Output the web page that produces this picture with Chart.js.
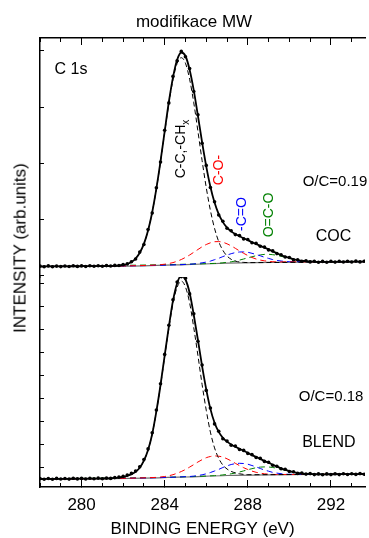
<!DOCTYPE html>
<html>
<head>
<meta charset="utf-8">
<script src="https://cdn.jsdelivr.net/npm/chart.js@4"></script>
<style>
  html, body { margin: 0; padding: 0; background: #fff; }
  #wrap { position: relative; width: 369px; height: 538px; overflow: hidden;
          font-family: "Liberation Sans", Arial, sans-serif; color: #000; }
  #plot-title { position: absolute; left: 0; top: 13px; width: 388px; text-align: center;
                font-size: 17px; line-height: 17px; white-space: nowrap; }
  #y-title { position: absolute; left: 20px; top: 248px; transform: translate(-50%, -50%) rotate(-90deg);
             font-size: 17px; line-height: 17px; white-space: nowrap; }
  canvas { position: absolute; left: 0; top: 0; }
</style>
</head>
<body>
<div id="wrap">
  <canvas id="xps" width="369" height="538"></canvas>
  <div id="plot-title">modifikace MW</div>
  <div id="y-title">INTENSITY (arb.units)</div>
</div>
<script>
// binding energy grid of the measured spectra (eV)
const energy = [
  278.0, 278.2, 278.4, 278.6, 278.8, 279.0, 279.2, 279.4, 279.6, 279.8,
  280.0, 280.2, 280.4, 280.6, 280.8, 281.0, 281.2, 281.4, 281.6, 281.8,
  282.0, 282.2, 282.4, 282.6, 282.8, 283.0, 283.2, 283.4, 283.6, 283.8,
  284.0, 284.2, 284.4, 284.6, 284.8, 285.0, 285.2, 285.4, 285.6, 285.8,
  286.0, 286.2, 286.4, 286.6, 286.8, 287.0, 287.2, 287.4, 287.6, 287.8,
  288.0, 288.2, 288.4, 288.6, 288.8, 289.0, 289.2, 289.4, 289.6, 289.8,
  290.0, 290.2, 290.4, 290.6, 290.8, 291.0, 291.2, 291.4, 291.6, 291.8,
  292.0, 292.2, 292.4, 292.6, 292.8, 293.0, 293.2, 293.4, 293.6
];

// COC sample (upper panel)
const cocMeasured = [
  0.9, 0.2, 1.1, 0.3, 0.9, 0.4, 1.0, 0.5, 1.2, 0.6,
  1.1, 0.5, 1.3, 0.7, 1.2, 0.8, 1.4, 1.0, 1.6, 1.5,
  2.4, 3.1, 5.3, 8.0, 14.9, 22.5, 37.4, 54.0, 79.2, 104.9,
  136.8, 164.1, 190.6, 206.3, 215.6, 210.2, 198.4, 175.5, 152.3, 123.8,
  101.6, 79.5, 65.3, 52.0, 45.7, 38.8, 36.3, 32.4, 31.4, 28.1,
  27.5, 24.2, 23.6, 20.7, 19.9, 17.1, 16.1, 13.4, 12.3, 10.0,
  9.5, 7.3, 7.3, 5.8, 6.3, 5.1, 5.8, 4.8, 5.6, 4.8,
  5.7, 4.9, 5.7, 5.0, 5.8, 5.0, 5.9, 5.1, 5.8
];
const cocFit = [
  0.50, 0.53, 0.56, 0.58, 0.61, 0.64, 0.67, 0.70, 0.72, 0.75,
  0.78, 0.81, 0.84, 0.86, 0.89, 0.92, 0.95, 0.98, 1.2, 1.4,
  2.0, 3.0, 4.9, 8.3, 14.2, 23.1, 36.5, 54.8, 78.3, 105.8,
  135.7, 165.0, 189.7, 207.2, 214.5, 211.0, 197.3, 176.6, 151.1, 124.9,
  100.7, 80.3, 64.4, 52.8, 44.9, 39.4, 35.6, 33.0, 30.7, 28.8,
  26.8, 24.8, 23.0, 21.2, 19.4, 17.6, 15.6, 13.8, 11.9, 10.4,
  9.1, 7.7, 6.9, 6.2, 5.9, 5.5, 5.3, 5.06, 5.09, 5.12,
  5.15, 5.18, 5.21, 5.24, 5.27, 5.3, 5.33, 5.36, 5.4
];

// BLEND sample (lower panel)
const blendMeasured = [
  0.4, -0.3, 0.5, -0.2, 0.6, 0.0, 0.5, -0.1, 0.7, 0.1,
  0.6, 0.0, 0.8, 0.2, 0.9, 0.3, 0.9, 0.6, 1.4, 1.9,
  2.6, 3.9, 5.6, 7.9, 12.2, 19.4, 30.1, 46.2, 68.9, 95.3,
  124.6, 153.8, 179.2, 196.9, 202.4, 200.8, 185.1, 165.2, 137.8, 113.9,
  88.6, 70.9, 55.1, 47.8, 40.3, 37.9, 33.8, 32.9, 29.5, 28.6,
  25.6, 24.4, 21.5, 20.6, 17.6, 16.8, 13.8, 12.8, 10.2, 9.7,
  7.5, 7.2, 5.6, 6.0, 4.9, 5.4, 4.4, 5.1, 4.3, 5.1,
  4.4, 5.2, 4.4, 5.3, 4.5, 5.3, 4.6, 5.4, 4.7
];
const blendFit = [
  0, 0.03, 0.06, 0.10, 0.13, 0.16, 0.19, 0.22, 0.26, 0.29,
  0.32, 0.35, 0.38, 0.42, 0.45, 0.48, 0.51, 0.54, 1.0, 1.4,
  2.1, 3.2, 4.7, 7.2, 11.3, 18.3, 28.9, 45.0, 67.6, 94.0,
  123.5, 152.3, 178.3, 195.8, 203.5, 199.5, 186.2, 164.0, 139.0, 112.9,
  89.7, 70.1, 56.2, 47.1, 41.2, 37.4, 34.6, 32.3, 30.2, 28.1,
  26.2, 23.9, 22.1, 20.1, 18.1, 16.3, 14.3, 12.3, 10.7, 9.2,
  8.0, 6.8, 6.0, 5.6, 5.2, 5.0, 4.8, 4.62, 4.65, 4.69,
  4.72, 4.76, 4.79, 4.83, 4.86, 4.90, 4.93, 4.97, 5.0
];

// background lines
const baseEnergy = [278, 283, 285, 287, 289, 293.6];
const cocBase = [0.5, 1.2, 2.4, 3.8, 4.7, 5.4];
const blendBase = [0, 0.8, 2.0, 3.5, 4.2, 5.0];

// fitted components, C-C / CHx
const ccEnergy = [278,
  281.6, 281.8, 282.0, 282.2, 282.4, 282.6, 282.8, 283.0, 283.2, 283.4,
  283.6, 283.8, 284.0, 284.2, 284.4, 284.6, 284.8, 285.0, 285.2, 285.4,
  285.6, 285.8, 286.0, 286.2, 286.4, 286.6, 286.8, 287.0, 287.2, 287.4,
  287.6, 287.8, 288.0, 293.6];
const cocCC = [0.5,
  1.2, 1.4, 2.0, 3.0, 4.9, 8.3, 14.2, 23.1, 36.5, 54.8,
  78.0, 105.2, 134.7, 163.4, 187.3, 203.6, 209.3, 203.8, 187.8, 164.2,
  135.7, 106.5, 79.5, 56.6, 38.6, 25.4, 16.7, 11.0, 7.7, 5.9,
  5.0, 4.6, 4.4, 5.4];
const blendCC = [0,
  1.0, 1.4, 2.1, 3.2, 4.7, 7.2, 11.3, 18.3, 28.9, 45.0,
  67.2, 93.3, 122.4, 150.5, 175.6, 191.8, 197.9, 192.0, 176.2, 151.3,
  123.5, 94.6, 68.8, 46.9, 31.1, 20.7, 13.9, 10.0, 7.6, 6.1,
  5.2, 4.6, 4.3, 5.0];

// C-O-
const coEnergy = [278,
  283.6, 283.8, 284.0, 284.2, 284.4, 284.6, 284.8, 285.0, 285.2, 285.4,
  285.6, 285.8, 286.0, 286.2, 286.4, 286.6, 286.8, 287.0, 287.2, 287.4,
  287.6, 287.8, 288.0, 288.2, 288.4, 288.6, 288.8, 289.0, 289.2, 289.4, 293.6];
const cocCO = [0.5,
  1.9, 2.3, 2.8, 3.5, 4.4, 5.8, 7.5, 9.6, 12.0, 14.7,
  17.5, 20.2, 22.5, 24.2, 25.3, 25.4, 24.7, 23.2, 21.1, 18.7,
  16.1, 13.7, 11.5, 9.5, 8.0, 6.9, 6.2, 5.7, 5.3, 5.1, 5.4];
const blendCO = [0,
  1.6, 2.0, 2.5, 3.3, 4.3, 5.8, 7.5, 9.5, 11.9, 14.4,
  17.0, 19.3, 21.3, 22.5, 23.1, 22.8, 21.9, 20.2, 18.1, 15.7,
  13.4, 11.3, 9.5, 7.9, 6.7, 5.9, 5.2, 4.9, 4.6, 4.5, 5.0];

// -C=O
const c2oEnergy = [278,
  285.2, 285.4, 285.6, 285.8, 286.0, 286.2, 286.4, 286.6, 286.8, 287.0,
  287.2, 287.4, 287.6, 287.8, 288.0, 288.2, 288.4, 288.6, 288.8, 289.0,
  289.2, 289.4, 289.6, 289.8, 290.0, 293.6];
const cocC2O = [0.5,
  2.7, 3.1, 3.5, 4.2, 4.9, 5.9, 7.3, 8.7, 10.4, 11.9,
  13.3, 14.4, 15.0, 15.1, 14.7, 13.7, 12.5, 11.2, 9.8, 8.6,
  7.4, 6.6, 6.0, 5.5, 5.3, 5.4];
const blendC2O = [0,
  2.5, 2.9, 3.5, 4.2, 5.2, 6.5, 8.0, 9.6, 11.5, 13.1,
  14.5, 15.3, 15.7, 15.5, 14.8, 13.5, 12.1, 10.5, 9.0, 7.8,
  6.6, 5.9, 5.3, 4.9, 4.7, 5.0];

// O=C-O
const o2coEnergy = [278,
  286.4, 286.6, 286.8, 287.0, 287.2, 287.4, 287.6, 287.8, 288.0, 288.2,
  288.4, 288.6, 288.8, 289.0, 289.2, 289.4, 289.6, 289.8, 290.0, 290.2,
  290.4, 290.6, 290.8, 291.0, 291.2, 293.6];
const cocO2CO = [0.5,
  3.6, 3.8, 4.2, 4.7, 5.2, 6.0, 6.9, 8.0, 9.2, 10.2,
  11.3, 12.1, 12.6, 12.7, 12.3, 11.7, 10.7, 9.7, 8.7, 7.7,
  6.9, 6.2, 5.9, 5.5, 5.3, 5.4];
const blendO2CO = [0,
  3.3, 3.6, 4.1, 4.6, 5.2, 6.0, 7.0, 8.1, 9.3, 10.3,
  11.3, 11.9, 12.1, 12.0, 11.5, 10.7, 9.7, 8.6, 7.7, 6.8,
  6.0, 5.6, 5.2, 5.0, 4.8, 5.0];

// axis ticks
const cocTicks = [216, 160, 104, 48, -8];
const blendTicks = [196, 173, 150, 127, 104, 81, 58, 35, 12];

const black = '#000000';
const red = '#ff0000';
const blue = '#0000ff';
const green = '#008000';
const fontFamily = '"Liberation Sans", Arial, sans-serif';

// labels placed in data coordinates
const notes = [
  { text: 'C 1s', x: 278.7, y: 197, axis: 'yTop', color: black, size: 16, align: 'left' },
  { text: 'C-C,-CH', sub: 'x', x: 284.78, y: 118, axis: 'yTop', color: black, size: 14, rotate: true },
  { text: 'C-O-', x: 286.64, y: 97, axis: 'yTop', color: red, size: 14, rotate: true },
  { text: '-C=O', x: 287.74, y: 53, axis: 'yTop', color: blue, size: 14, rotate: true },
  { text: 'O=C-O', x: 289.05, y: 52, axis: 'yTop', color: green, size: 14, rotate: true },
  { text: 'O/C=0.19', x: 290.64, y: 85, axis: 'yTop', color: black, size: 15, align: 'left' },
  { text: 'COC', x: 292.12, y: 30, axis: 'yTop', color: black, size: 16 },
  { text: 'O/C=0.18', x: 290.45, y: 82, axis: 'yBot', color: black, size: 15, align: 'left' },
  { text: 'BLEND', x: 291.9, y: 36, axis: 'yBot', color: black, size: 16 }
];

function pts(xs, ys) {
  return xs.map((x, i) => ({ x: x, y: ys[i] }));
}

function line(xs, ys, axis, color, width, dash) {
  return {
    data: pts(xs, ys),
    yAxisID: axis,
    xAxisID: 'x',
    borderColor: color,
    borderWidth: width,
    borderDash: dash || [],
    pointRadius: 0,
    fill: false,
    cubicInterpolationMode: 'monotone'
  };
}

function dots(xs, ys, axis) {
  return {
    data: pts(xs, ys),
    yAxisID: axis,
    xAxisID: 'x',
    showLine: false,
    pointRadius: 1.8,
    pointBackgroundColor: black,
    pointBorderWidth: 0
  };
}

const notesPlugin = {
  id: 'notes',
  afterDatasetsDraw(chart) {
    const ctx = chart.ctx;
    const xs = chart.scales.x;
    notes.forEach(n => {
      const px = xs.getPixelForValue(n.x);
      const py = chart.scales[n.axis].getPixelForValue(n.y);
      ctx.save();
      ctx.translate(px, py);
      if (n.rotate) ctx.rotate(-Math.PI / 2);
      ctx.fillStyle = n.color;
      ctx.textBaseline = 'middle';
      ctx.font = n.size + 'px ' + fontFamily;
      if (n.sub) {
        const w1 = ctx.measureText(n.text).width;
        ctx.font = (n.size - 4) + 'px ' + fontFamily;
        const w2 = ctx.measureText(n.sub).width;
        const start = -(w1 + w2) / 2;
        ctx.textAlign = 'left';
        ctx.fillText(n.sub, start + w1, 5);
        ctx.font = n.size + 'px ' + fontFamily;
        ctx.fillText(n.text, start, 0);
      } else {
        ctx.textAlign = n.align || 'center';
        ctx.fillText(n.text, 0, 0);
      }
      ctx.restore();
    });
  }
};

function xAxis(position, step, tickLen, extra) {
  return Object.assign({
    type: 'linear',
    position: position,
    min: 278,
    max: 293.64,
    ticks: { stepSize: step, includeBounds: false, display: false },
    grid: { drawOnChartArea: false, tickLength: tickLen, tickColor: black, tickWidth: 1 },
    border: { display: false },
    afterFit: s => { s.height = 0; }
  }, extra || {});
}

function yAxis(weight, stackWeight, min, max, tickValues) {
  return {
    type: 'linear',
    position: 'left',
    stack: 'panels',
    stackWeight: stackWeight,
    weight: weight,
    min: min,
    max: max,
    ticks: { display: false },
    afterBuildTicks: s => { s.ticks = tickValues.map(v => ({ value: v })); },
    grid: { drawOnChartArea: false, tickLength: -4, tickColor: black, tickWidth: 1 },
    border: { display: true, color: black, width: 1.5 },
    afterFit: s => { s.width = 40; }
  };
}

Chart.defaults.font.family = fontFamily;
Chart.defaults.color = black;

new Chart(document.getElementById('xps'), {
  type: 'line',
  data: {
    datasets: [
      dots(energy, cocMeasured, 'yTop'),
      line(energy, cocFit, 'yTop', black, 1.8),
      line(ccEnergy, cocCC, 'yTop', black, 1, [5, 3]),
      line(coEnergy, cocCO, 'yTop', red, 1, [6, 4]),
      line(c2oEnergy, cocC2O, 'yTop', blue, 1, [6, 4]),
      line(o2coEnergy, cocO2CO, 'yTop', green, 1, [6, 4]),
      line(baseEnergy, cocBase, 'yTop', '#707070', 1.2),
      dots(energy, blendMeasured, 'yBot'),
      line(energy, blendFit, 'yBot', black, 1.8),
      line(ccEnergy, blendCC, 'yBot', black, 1, [5, 3]),
      line(coEnergy, blendCO, 'yBot', red, 1, [6, 4]),
      line(c2oEnergy, blendC2O, 'yBot', blue, 1, [6, 4]),
      line(o2coEnergy, blendO2CO, 'yBot', green, 1, [6, 4]),
      line(baseEnergy, blendBase, 'yBot', '#707070', 1.2)
    ]
  },
  options: {
    responsive: false,
    animation: false,
    events: [],
    layout: { padding: { top: 38, right: 0, bottom: 0, left: 0 } },
    plugins: { legend: { display: false }, tooltip: { enabled: false } },
    scales: {
      x: xAxis('bottom', 4, -7, {
        weight: 1,
        ticks: { stepSize: 4, includeBounds: false, display: true, padding: 15,
                 font: { size: 17 }, maxRotation: 0, autoSkip: false },
        border: { display: true, color: black, width: 1.5 },
        title: { display: true, text: 'BINDING ENERGY (eV)', font: { size: 17, lineHeight: 1 },
                 padding: { top: 0, bottom: 0 } },
        afterFit: s => { s.height = 51; }
      }),
      xMinor: xAxis('bottom', 1, -4, { weight: 0 }),
      xTop: xAxis('top', 4, -7, { border: { display: true, color: black, width: 1.5 } }),
      xTopMinor: xAxis('top', 1, -4),
      yTop: yAxis(1, 239, -10, 229, cocTicks),
      yBot: yAxis(0, 210, -8, 202, blendTicks)
    }
  },
  plugins: [notesPlugin]
});
</script>
</body>
</html>
